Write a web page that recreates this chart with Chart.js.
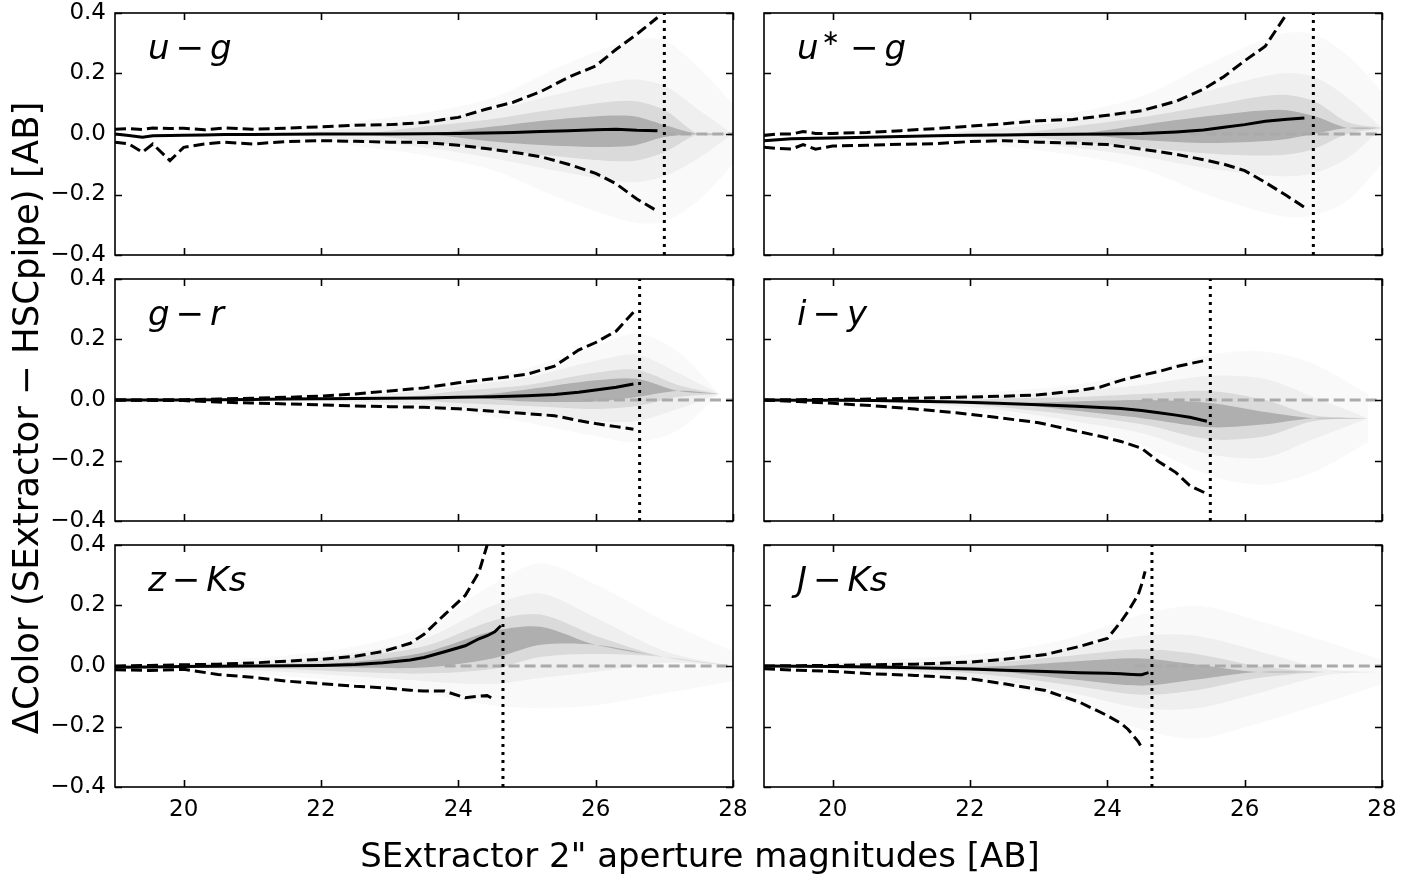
<!DOCTYPE html>
<html>
<head>
<meta charset="utf-8">
<script src="https://cdn.jsdelivr.net/npm/chart.js@4.4.0/dist/chart.umd.min.js"></script>
<style>
  body { margin: 0; background: #fff; }
  #fig { position: relative; width: 1421px; height: 876px; background: #fff; overflow: hidden;
         font-family: "DejaVu Sans", sans-serif; color: #000; }
  #fig canvas { position: absolute; }
  .tag { position: absolute; font-size: 34px; line-height: 34px; white-space: nowrap; }
  .tag i { font-style: italic; }
  .tag .op { margin: 0 6px; }
  .tag sup { font-size: 22px; vertical-align: 14px; line-height: 0; margin-left: 3px; margin-right: 4px; }
  #ytitle { position: absolute; width: 800px; left: -374px; top: 400px; text-align: center;
            font-size: 35.5px; line-height: 36px; transform: rotate(-90deg); white-space: nowrap; }
  #xtitle { position: absolute; width: 1000px; left: 200px; top: 838px; text-align: center;
            font-size: 34px; line-height: 34px; white-space: nowrap; }
</style>
</head>
<body>
<div id="fig">
  <canvas id="c0" width="770" height="302" style="left:0;top:-17px"></canvas>
  <canvas id="c1" width="681" height="302" style="left:740px;top:-17px"></canvas>
  <canvas id="c2" width="770" height="302" style="left:0;top:249px"></canvas>
  <canvas id="c3" width="681" height="302" style="left:740px;top:249px"></canvas>
  <canvas id="c4" width="770" height="322" style="left:0;top:515px"></canvas>
  <canvas id="c5" width="681" height="322" style="left:740px;top:515px"></canvas>

  <div class="tag" style="left:148px;top:30px"><i>u</i><span class="op">−</span><i>g</i></div>
  <div class="tag" style="left:797px;top:30px"><i>u</i><sup>∗</sup><span class="op">−</span><i>g</i></div>
  <div class="tag" style="left:148px;top:296px"><i>g</i><span class="op">−</span><i>r</i></div>
  <div class="tag" style="left:797px;top:296px"><i>i</i><span class="op">−</span><i>y</i></div>
  <div class="tag" style="left:148px;top:562px"><i>z</i><span class="op">−</span><i>Ks</i></div>
  <div class="tag" style="left:797px;top:562px"><i>J</i><span class="op">−</span><i>Ks</i></div>

  <div id="ytitle">ΔColor (SExtractor − HSCpipe) [AB]</div>
  <div id="xtitle">SExtractor 2" aperture magnitudes [AB]</div>
</div>

<script>
// axes
const magTicks = [20, 22, 24, 26, 28];
const colorTicks = [-0.4, -0.2, 0.0, 0.2, 0.4];
const colorTickLabels = ['\u22120.4', '\u22120.2', '0.0', '0.2', '0.4'];

// completeness limits (dotted) and where the grey zero line shows up
const completeness = [27.0, 27.0, 26.64, 25.5, 24.65, 24.65];
const zeroLineStart = [27.0, 25.2, 25.8, 24.5, 23.8, 24.4];

// u - g
const ugMag    = [19.0, 19.2, 19.4, 19.55, 19.8, 20.0, 20.3, 20.6, 21.0, 21.5, 22.0, 22.5, 23.0, 23.5, 24.0, 24.4, 24.8, 25.2, 25.6, 26.0, 26.3, 26.6, 26.9];
const ugMedian = [0.0, -0.005, -0.011, -0.006, -0.005, -0.004, -0.003, -0.002, -0.002, -0.001, 0.0, 0.0, 0.0, 0.001, 0.002, 0.003, 0.005, 0.008, 0.011, 0.014, 0.016, 0.012, 0.011];
const ugUpper  = [0.016, 0.018, 0.015, 0.02, 0.018, 0.019, 0.014, 0.02, 0.016, 0.019, 0.024, 0.029, 0.031, 0.038, 0.055, 0.082, 0.105, 0.14, 0.187, 0.225, 0.28, 0.33, 0.385];
const ugLower  = [-0.027, -0.033, -0.06, -0.033, -0.088, -0.044, -0.033, -0.027, -0.033, -0.025, -0.022, -0.024, -0.027, -0.028, -0.037, -0.048, -0.06, -0.075, -0.1, -0.13, -0.165, -0.215, -0.255];

// u* - g
const usgMag    = [19.0, 19.2, 19.4, 19.57, 19.75, 20.0, 20.5, 21.0, 21.5, 22.0, 22.5, 23.0, 23.5, 24.0, 24.5, 25.0, 25.4, 25.7, 26.0, 26.3, 26.62, 26.87];
const usgMedian = [-0.022, -0.019, -0.016, -0.015, -0.014, -0.013, -0.011, -0.008, -0.006, -0.004, -0.003, -0.002, -0.001, 0.0, 0.002, 0.007, 0.013, 0.022, 0.031, 0.042, 0.049, 0.053];
const usgUpper  = [-0.005, 0.0, 0.0, 0.008, 0.002, 0.002, 0.005, 0.011, 0.018, 0.026, 0.034, 0.044, 0.048, 0.062, 0.077, 0.108, 0.148, 0.19, 0.242, 0.29, 0.4, null];
const usgLower  = [-0.044, -0.048, -0.05, -0.035, -0.05, -0.04, -0.037, -0.034, -0.032, -0.025, -0.022, -0.027, -0.03, -0.035, -0.05, -0.067, -0.085, -0.1, -0.121, -0.16, -0.205, -0.242];

// g - r
const grMag    = [19.0, 20.0, 20.5, 21.0, 21.5, 22.0, 22.5, 23.0, 23.5, 24.0, 24.5, 25.0, 25.4, 25.75, 26.0, 26.3, 26.55];
const grMedian = [0.0, 0.0, 0.001, 0.002, 0.003, 0.004, 0.005, 0.006, 0.007, 0.009, 0.011, 0.014, 0.018, 0.026, 0.033, 0.042, 0.053];
const grUpper  = [0.0, 0.001, 0.003, 0.006, 0.009, 0.013, 0.02, 0.03, 0.04, 0.057, 0.07, 0.085, 0.112, 0.165, 0.19, 0.228, 0.29];
const grLower  = [0.0, -0.002, -0.007, -0.01, -0.013, -0.016, -0.02, -0.022, -0.024, -0.029, -0.037, -0.045, -0.052, -0.068, -0.078, -0.088, -0.097];

// i - y
const iyMag    = [19.0, 19.5, 20.0, 20.6, 21.2, 21.8, 22.4, 23.0, 23.55, 23.9, 24.2, 24.5, 24.75, 25.0, 25.2, 25.45];
const iyMedian = [0.0, -0.001, -0.001, -0.002, -0.004, -0.007, -0.011, -0.016, -0.021, -0.025, -0.028, -0.035, -0.042, -0.05, -0.057, -0.07];
const iyUpper  = [0.0, 0.001, 0.002, 0.003, 0.006, 0.009, 0.012, 0.017, 0.03, 0.043, 0.065, 0.082, 0.094, 0.11, 0.12, 0.132];
const iyLower  = [0.0, -0.005, -0.011, -0.019, -0.03, -0.042, -0.058, -0.075, -0.103, -0.12, -0.137, -0.16, -0.204, -0.24, -0.283, -0.31];

// z - Ks
const zkMag    = [19.0, 19.5, 20.0, 20.5, 21.0, 21.5, 22.0, 22.5, 22.9, 23.3, 23.5, 23.8, 24.1, 24.3, 24.42, 24.53, 24.62];
const zkMedian = [-0.004, -0.003, -0.002, -0.001, 0.0, 0.001, 0.002, 0.005, 0.011, 0.02, 0.028, 0.047, 0.067, 0.09, 0.1, 0.113, 0.133];
const zkUpper  = [0.0, 0.002, 0.004, 0.006, 0.01, 0.016, 0.022, 0.032, 0.048, 0.075, 0.105, 0.17, 0.233, 0.31, 0.4, null, null];
const zkLower  = [-0.012, -0.015, -0.011, -0.028, -0.037, -0.05, -0.058, -0.067, -0.072, -0.08, -0.083, -0.083, -0.105, -0.1, -0.098, -0.111, null];

// J - Ks
const jkMag    = [19.0, 19.5, 20.0, 20.6, 21.2, 22.0, 22.5, 23.1, 23.6, 24.0, 24.2, 24.3, 24.45, 24.5, 24.55, 24.6];
const jkMedian = [0.0, -0.001, -0.002, -0.003, -0.006, -0.01, -0.014, -0.018, -0.022, -0.024, -0.026, -0.027, -0.029, -0.029, -0.025, -0.022];
const jkUpper  = [0.0, 0.001, 0.002, 0.004, 0.006, 0.013, 0.022, 0.038, 0.065, 0.091, 0.147, 0.18, 0.236, 0.27, 0.313, null];
const jkLower  = [-0.009, -0.014, -0.018, -0.026, -0.031, -0.042, -0.059, -0.081, -0.12, -0.164, -0.19, -0.209, -0.25, -0.27, null, null];

// source density clouds: centre and half-widths of nested contours (outer -> core)
const ugDensMag = [21.5, 22.5, 23.5, 24.5, 25.5, 26.5, 27.0, 27.5, 28.0];
const ugDensCenter = [0, 0, 0, 0, 0.005, 0.01, 0.01, 0, 0];
const ugDensWidth = [
  [0, 0.04, 0.07, 0.12, 0.22, 0.3, 0.3, 0.22, 0.1],
  [0, 0.02, 0.045, 0.08, 0.13, 0.17, 0.15, 0.08, 0],
  [0, 0, 0.025, 0.05, 0.08, 0.1, 0.07, 0, 0],
  [0, 0, 0, 0.025, 0.045, 0.05, 0.02, 0, 0]
];
const usgDensMag = [21.5, 22.5, 23.5, 24.5, 25.5, 26.5, 27.0, 27.5, 28.0];
const usgDensCenter = [0, 0, 0, 0.005, 0.015, 0.03, 0.03, 0.02, 0.02];
const usgDensWidth = [
  [0, 0.04, 0.07, 0.12, 0.22, 0.3, 0.3, 0.24, 0.12],
  [0, 0.02, 0.045, 0.08, 0.13, 0.17, 0.16, 0.1, 0],
  [0, 0, 0.025, 0.05, 0.08, 0.1, 0.08, 0.02, 0],
  [0, 0, 0, 0.025, 0.045, 0.05, 0.03, 0, 0]
];
const grDensMag = [22.0, 23.0, 24.0, 25.0, 26.0, 26.6, 27.2, 27.8];
const grDensCenter = [0, 0.005, 0.01, 0.015, 0.03, 0.04, 0.03, 0.02];
const grDensWidth = [
  [0, 0.03, 0.05, 0.09, 0.15, 0.18, 0.13, 0],
  [0, 0.015, 0.035, 0.06, 0.1, 0.11, 0.06, 0],
  [0, 0, 0.02, 0.035, 0.06, 0.06, 0.02, 0],
  [0, 0, 0, 0.02, 0.035, 0.03, 0, 0]
];
const iyDensMag = [20.5, 21.5, 22.5, 23.5, 24.5, 25.5, 26.3, 27.0, 27.8];
const iyDensCenter = [0, -0.005, -0.01, -0.02, -0.03, -0.05, -0.06, -0.06, -0.06];
const iyDensWidth = [
  [0, 0.02, 0.04, 0.07, 0.12, 0.2, 0.22, 0.18, 0.08],
  [0, 0.01, 0.025, 0.05, 0.08, 0.13, 0.13, 0.07, 0],
  [0, 0, 0.015, 0.03, 0.05, 0.08, 0.06, 0.01, 0],
  [0, 0, 0, 0.015, 0.03, 0.04, 0.02, 0, 0]
];
const zkDensMag = [19.5, 20.5, 21.5, 22.5, 23.5, 24.5, 25.2, 26.0, 27.0, 28.0];
const zkDensCenter = [0, 0, 0, 0.005, 0.02, 0.07, 0.1, 0.07, 0.03, 0];
const zkDensWidth = [
  [0, 0.02, 0.035, 0.06, 0.11, 0.2, 0.24, 0.2, 0.12, 0.05],
  [0, 0.01, 0.02, 0.04, 0.07, 0.13, 0.14, 0.09, 0.02, 0],
  [0, 0, 0.01, 0.025, 0.045, 0.08, 0.07, 0.03, 0, 0],
  [0, 0, 0, 0.01, 0.025, 0.045, 0.03, 0, 0, 0]
];
const jkDensMag = [19.5, 20.5, 21.5, 22.5, 23.5, 24.5, 25.3, 26.2, 27.2, 28.0];
const jkDensCenter = [0, 0, -0.005, -0.01, -0.015, -0.02, -0.02, -0.02, -0.02, -0.02];
const jkDensWidth = [
  [0, 0.02, 0.035, 0.06, 0.11, 0.19, 0.22, 0.17, 0.1, 0.04],
  [0, 0.01, 0.02, 0.04, 0.075, 0.12, 0.12, 0.07, 0.01, 0],
  [0, 0, 0.01, 0.025, 0.05, 0.075, 0.06, 0.02, 0, 0],
  [0, 0, 0, 0.01, 0.03, 0.045, 0.025, 0, 0, 0]
];

const panels = [
  {mag: ugMag,  med: ugMedian,  hi: ugUpper,  lo: ugLower,  dMag: ugDensMag,  dCen: ugDensCenter,  dW: ugDensWidth},
  {mag: usgMag, med: usgMedian, hi: usgUpper, lo: usgLower, dMag: usgDensMag, dCen: usgDensCenter, dW: usgDensWidth},
  {mag: grMag,  med: grMedian,  hi: grUpper,  lo: grLower,  dMag: grDensMag,  dCen: grDensCenter,  dW: grDensWidth},
  {mag: iyMag,  med: iyMedian,  hi: iyUpper,  lo: iyLower,  dMag: iyDensMag,  dCen: iyDensCenter,  dW: iyDensWidth},
  {mag: zkMag,  med: zkMedian,  hi: zkUpper,  lo: zkLower,  dMag: zkDensMag,  dCen: zkDensCenter,  dW: zkDensWidth},
  {mag: jkMag,  med: jkMedian,  hi: jkUpper,  lo: jkLower,  dMag: jkDensMag,  dCen: jkDensCenter,  dW: jkDensWidth}
];

const densAlpha = [0.025, 0.045, 0.085, 0.2];

function pts(xs, ys) {
  const out = [];
  xs.forEach((x, i) => { if (ys[i] !== null) out.push({x: x, y: ys[i]}); });
  return out;
}

// frame + inward ticks on all four sides, matplotlib style
const framePlugin = {
  id: 'frame',
  afterDraw(chart) {
    const ctx = chart.ctx, a = chart.chartArea;
    const x = chart.scales.x, y = chart.scales.y;
    ctx.save();
    ctx.strokeStyle = '#000';
    ctx.lineWidth = 1.6;
    ctx.strokeRect(a.left, a.top, a.right - a.left, a.bottom - a.top);
    ctx.beginPath();
    x.ticks.forEach(t => {
      const px = Math.round(x.getPixelForValue(t.value)) + 0.5;
      ctx.moveTo(px, a.bottom); ctx.lineTo(px, a.bottom - 7);
      ctx.moveTo(px, a.top); ctx.lineTo(px, a.top + 7);
    });
    y.ticks.forEach(t => {
      const py = Math.round(y.getPixelForValue(t.value)) + 0.5;
      ctx.moveTo(a.left, py); ctx.lineTo(a.left + 7, py);
      ctx.moveTo(a.right, py); ctx.lineTo(a.right - 7, py);
    });
    ctx.stroke();
    ctx.restore();
  }
};

panels.forEach((p, i) => {
  const isLeft = i % 2 === 0;
  const isBottom = i >= 4;

  const datasets = [
    {data: pts(p.mag, p.med), borderColor: '#000', borderWidth: 3, order: 0},
    {data: pts(p.mag, p.hi), borderColor: '#000', borderWidth: 3, borderDash: [11, 5], order: 0},
    {data: pts(p.mag, p.lo), borderColor: '#000', borderWidth: 3, borderDash: [11, 5], order: 0},
    {data: [{x: completeness[i], y: -0.4}, {x: completeness[i], y: 0.4}],
     borderColor: '#000', borderWidth: 3, borderDash: [3, 5], order: 1},
    {data: [{x: zeroLineStart[i], y: 0}, {x: 28, y: 0}],
     borderColor: '#aaaaaa', borderWidth: 3, borderDash: [11, 5], order: 5}
  ];
  p.dW.forEach((w, k) => {
    datasets.push({
      data: p.dMag.map((m, j) => ({x: m, y: p.dCen[j] + w[j]})),
      borderWidth: 0, borderColor: 'rgba(0,0,0,0)', tension: 0.3, clip: 0,
      fill: '+1', backgroundColor: 'rgba(0,0,0,' + densAlpha[k] + ')', order: 10 + k
    });
    datasets.push({
      data: p.dMag.map((m, j) => ({x: m, y: p.dCen[j] - w[j]})),
      borderWidth: 0, borderColor: 'rgba(0,0,0,0)', tension: 0.3, clip: 0,
      fill: false, order: 10 + k
    });
  });

  new Chart(document.getElementById('c' + i), {
    type: 'line',
    data: {datasets: datasets},
    options: {
      responsive: false,
      animation: false,
      events: [],
      elements: {point: {radius: 0}, line: {tension: 0}},
      layout: {padding: {top: 30, right: isLeft ? 37 : 39, left: 0, bottom: 0}},
      plugins: {legend: {display: false}, tooltip: {enabled: false}},
      scales: {
        x: {
          type: 'linear', min: 19, max: 28,
          afterBuildTicks: s => { s.ticks = magTicks.map(v => ({value: v})); },
          afterFit: s => { s.height = isBottom ? 50 : 30; },
          grid: {display: false, drawTicks: false},
          border: {display: false},
          ticks: {display: isBottom, padding: 9, color: '#000',
                  font: {family: 'DejaVu Sans', size: 23}}
        },
        y: {
          type: 'linear', min: -0.4, max: 0.4,
          afterBuildTicks: s => { s.ticks = colorTicks.map(v => ({value: v})); },
          afterFit: s => { s.width = isLeft ? 115 : 24; },
          grid: {display: false, drawTicks: false},
          border: {display: false},
          ticks: {display: isLeft, padding: 9, color: '#000',
                  font: {family: 'DejaVu Sans', size: 23},
                  callback: (v, idx) => colorTickLabels[idx]}
        }
      }
    },
    plugins: [framePlugin]
  });
});
</script>
</body>
</html>
